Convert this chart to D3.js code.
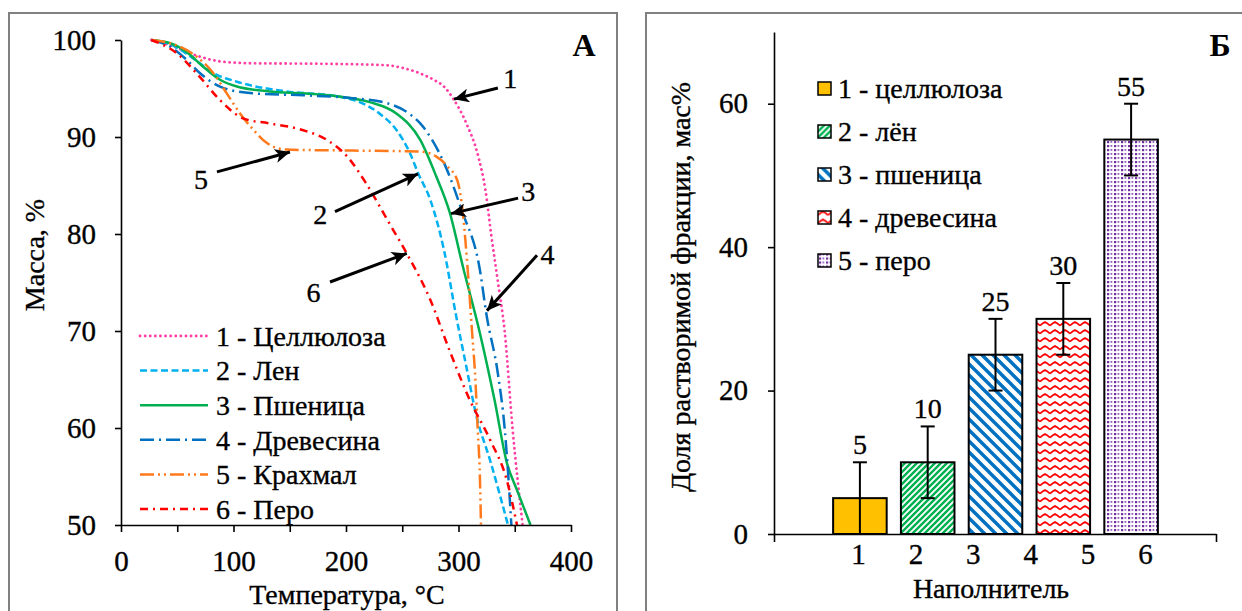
<!DOCTYPE html>
<html>
<head>
<meta charset="utf-8">
<script src="https://cdn.jsdelivr.net/npm/d3@7"></script>
<style>
  body { margin: 0; background: #fff; }
</style>
</head>
<body>
<svg id="chart" width="1242" height="611" font-family="Liberation Serif"></svg>
<script>
// ---- panel A: TGA curves, [temperature °C, mass %]
const cellulose = [[27,100],[45,99.4],[67,98.4],[88,97.8],[117,97.6],[177,97.55],[236,97.4],[251,97.1],[265,96.6],[278,95.9],[288,95.1],[295,94.0],[307,91.4],[318,87.8],[324,84.5],[329,80],[335,75.1],[341,70],[348,60],[357,50]];
const flax = [[27,100],[45,99.5],[58,98.6],[70,97.6],[82,96.6],[103,95.7],[147,94.7],[192,94.2],[212,93.6],[230,92.4],[245,90.7],[257,88.3],[264,86.3],[275,83.5],[287,78.4],[298,71.5],[307,66.3],[316,61.2],[328,56.7],[344,50]];
const wheat = [[27,100],[44,99.66],[58,98.8],[73,97.25],[88,95.9],[103,95.2],[132,94.7],[162,94.5],[192,94.2],[221,93.6],[245,92.4],[266,89.7],[280,86],[292,82.3],[304,76.6],[319,69.8],[332,62.9],[343,56.4],[352,53.6],[364,50]];
const wood = [[27,100],[44,99.3],[58,98],[70,96.6],[88,95.2],[117,94.5],[162,94.3],[206,94.0],[236,93.5],[255,92.5],[266,91.4],[288,87.1],[303,82.4],[319,76.3],[325,71.6],[335,65.6],[341,60],[344,55.5],[347,50]];
const starch = [[27,100],[44,99.66],[67,98.3],[82,96.6],[94,94.5],[106,92.4],[118,90.7],[130,89.35],[147,88.7],[206,88.6],[266,88.5],[280,88.0],[290,87.0],[299,85.5],[304,82],[308,76.6],[312,70],[315,65],[317,60],[319,55],[320,50]];
const feather = [[27,100],[50,98.6],[70,96.2],[88,93.8],[109,91.9],[132,91.4],[162,90.7],[183,89.7],[201,88.0],[218,85.2],[239,81.0],[254,78.0],[275,73.2],[292,68.0],[310,62.9],[328,58.8],[343,54.6],[352,50]];

const tgaNames = ["1 - Целлюлоза", "2 - Лен", "3 - Пшеница", "4 - Древесина", "5 - Крахмал", "6 - Перо"];
const tgaData = [cellulose, flax, wheat, wood, starch, feather];
const tempTicks = [0, 50, 100, 150, 200, 250, 300, 350, 400];
const massTicks = [50, 60, 70, 80, 90, 100];

// arrows: [label, labelT, labelM, startT, startM, tipT, tipM]
const arrows = [
  ["1", 346, 96.1, 335, 95.05, 296, 93.9],
  ["5", 71, 85.6, 85.3, 86.4, 150.2, 88.45],
  ["2", 177, 82.0, 190.2, 82.3, 264, 86.2],
  ["3", 362, 84.4, 353, 83.7, 293.3, 82.1],
  ["6", 171, 74.0, 185.8, 75.05, 254, 78.0],
  ["4", 379, 77.9, 369.8, 77.8, 325.3, 72.1]
];

// ---- panel B: soluble fraction
const fillers = ["1 - целлюлоза", "2 - лён", "3 - пшеница", "4 - древесина", "5 - перо"];
const soluble = [5, 10, 25, 30, 55];
const solubleErr = [5, 5, 5, 5, 5];
const fillerTicks = ["1", "2", "3", "4", "5", "6"];
const fractionTicks = [0, 20, 40, 60];

// ---- styles
const lineStyles = [
  { color: "#ff3fa4", dash: "0.1 5", cap: "round", w: 2.8 },
  { color: "#00b0f0", dash: "7 3.5", cap: "butt", w: 2.5 },
  { color: "#00b050", dash: null, cap: "butt", w: 2.5 },
  { color: "#0070c0", dash: "14 5 2 5", cap: "butt", w: 2.5 },
  { color: "#ff7a1c", dash: "14 4 2 4 2 4", cap: "butt", w: 2.5 },
  { color: "#ff0000", dash: "8 5 2 5", cap: "butt", w: 2.5 }
];
const barFills = ["#ffc000", "url(#pFlax)", "url(#pWheat)", "url(#pWood)", "url(#pFeather)"];
const FONT = "Liberation Serif";

const svg = d3.select("#chart");
const defs = svg.append("defs");

// hatch patterns
function pattern(id, w, h) {
  const p = defs.append("pattern").attr("id", id).attr("patternUnits", "userSpaceOnUse")
    .attr("width", w).attr("height", h);
  p.append("rect").attr("width", w).attr("height", h).attr("fill", "#fff");
  return p;
}
pattern("pFlax", 6, 6).append("path")
  .attr("d", "M-1,1 L1,-1 M0,6 L6,0 M5,7 L7,5")
  .attr("stroke", "#00b050").attr("stroke-width", 2.4);
pattern("pWheat", 11, 11).append("path")
  .attr("d", "M0,0 L11,11 M-2,9 L2,13 M9,-2 L13,2")
  .attr("stroke", "#0070c0").attr("stroke-width", 3.4);
pattern("pWood", 10, 8).append("path")
  .attr("d", "M0,5.5 L2.5,3.5 L5,2 L7.5,3.5 L10,5.5")
  .attr("fill", "none").attr("stroke", "#ff0000").attr("stroke-width", 1.7);
const pf = pattern("pFeather", 7, 4);
pf.append("rect").attr("x", 1).attr("y", 1).attr("width", 2.2).attr("height", 2.2).attr("fill", "#7030a0");
pf.append("rect").attr("x", 4.5).attr("y", 1).attr("width", 1.8).attr("height", 1.8).attr("fill", "#9460c0");

defs.append("marker").attr("id", "arrowHead")
  .attr("markerUnits", "userSpaceOnUse").attr("markerWidth", 16).attr("markerHeight", 14)
  .attr("refX", 15).attr("refY", 7).attr("orient", "auto")
  .append("path").attr("d", "M0,0 L15,7 L0,14 L4,7 Z").attr("fill", "#000");

// frames
svg.append("rect").attr("x", 9).attr("y", 13).attr("width", 608).attr("height", 620)
  .attr("fill", "none").attr("stroke", "#808080").attr("stroke-width", 2);
svg.append("rect").attr("x", 646).attr("y", 13).attr("width", 620).attr("height", 620)
  .attr("fill", "none").attr("stroke", "#808080").attr("stroke-width", 2);

// ================= panel A =================
const xL = d3.scaleLinear().domain([0, 400]).range([121, 571]);
const yL = d3.scaleLinear().domain([50, 100]).range([525, 40]);

const gA = svg.append("g");

const line = d3.line().x(d => xL(d[0])).y(d => yL(d[1])).curve(d3.curveMonotoneX);

gA.append("g").selectAll("path")
  .data(tgaData)
  .enter().append("path")
  .attr("d", line)
  .attr("fill", "none")
  .attr("stroke", (d, i) => lineStyles[i].color)
  .attr("stroke-width", (d, i) => lineStyles[i].w)
  .attr("stroke-dasharray", (d, i) => lineStyles[i].dash)
  .attr("stroke-linecap", (d, i) => lineStyles[i].cap);

const axA_y = gA.append("g").attr("transform", `translate(${xL(0)},0)`)
  .call(d3.axisLeft(yL).tickValues(massTicks).tickSize(6).tickSizeOuter(0).tickPadding(19));
const axA_x = gA.append("g").attr("transform", `translate(0,${yL(50)})`)
  .call(d3.axisBottom(xL).tickValues(tempTicks).tickSize(7).tickSizeOuter(0).tickPadding(18)
    .tickFormat(d => d % 100 === 0 ? d : ""));
[axA_y, axA_x].forEach(a => {
  a.attr("font-family", FONT).attr("font-size", 29);
  a.selectAll("path, line").attr("stroke", "#000").attr("stroke-width", 1.6);
});

// legend A
const legA = gA.append("g").selectAll("g")
  .data(tgaNames)
  .enter().append("g")
  .attr("transform", (d, i) => `translate(140,${336 + i * 34.6})`);
legA.append("line").attr("x1", 0).attr("x2", 68)
  .attr("stroke", (d, i) => lineStyles[i].color)
  .attr("stroke-width", (d, i) => lineStyles[i].w)
  .attr("stroke-dasharray", (d, i) => lineStyles[i].dash)
  .attr("stroke-linecap", (d, i) => lineStyles[i].cap);
legA.append("text").attr("x", 76).attr("dy", "0.35em").attr("font-size", 28).text(d => d);

// arrows
gA.append("g").selectAll("line")
  .data(arrows)
  .enter().append("line")
  .attr("x1", d => xL(d[3])).attr("y1", d => yL(d[4]))
  .attr("x2", d => xL(d[5])).attr("y2", d => yL(d[6]))
  .attr("stroke", "#000").attr("stroke-width", 3)
  .attr("marker-end", "url(#arrowHead)");
gA.append("g").selectAll("text")
  .data(arrows)
  .enter().append("text")
  .attr("x", d => xL(d[1])).attr("y", d => yL(d[2]))
  .attr("text-anchor", "middle").attr("dy", "0.35em")
  .attr("font-size", 28).text(d => d[0]);

gA.append("text").attr("transform", "translate(44,255) rotate(-90)")
  .attr("text-anchor", "middle").attr("font-size", 28).text("Масса, %");
gA.append("text").attr("x", 347).attr("y", 604)
  .attr("text-anchor", "middle").attr("font-size", 28).text("Температура, °С");

// ================= panel B =================
const yR = d3.scaleLinear().domain([0, 70]).range([534, 32]);
const xBand = d3.scaleBand().domain(fillers).range([826, 1165]).paddingInner(0.21).paddingOuter(0.105);
const xTick = d3.scalePoint().domain(fillerTicks).range([858, 1145]);
const xAxisSpan = d3.scaleLinear().domain([0, 1]).range([774, 1216]);

const gB = svg.append("g");

gB.append("g").selectAll("rect")
  .data(soluble)
  .enter().append("rect")
  .attr("x", (d, i) => xBand(fillers[i]))
  .attr("y", d => yR(d))
  .attr("width", xBand.bandwidth())
  .attr("height", d => yR(0) - yR(d))
  .attr("fill", (d, i) => barFills[i])
  .attr("stroke", "#000").attr("stroke-width", 2);

// error bars
const eb = gB.append("g").selectAll("g")
  .data(soluble)
  .enter().append("g")
  .attr("transform", (d, i) => `translate(${xBand(fillers[i]) + xBand.bandwidth() / 2},0)`);
eb.append("line")
  .attr("y1", (d, i) => yR(d - solubleErr[i])).attr("y2", (d, i) => yR(d + solubleErr[i]))
  .attr("stroke", "#000").attr("stroke-width", 2);
eb.append("line").attr("x1", -7).attr("x2", 7)
  .attr("y1", (d, i) => yR(d + solubleErr[i])).attr("y2", (d, i) => yR(d + solubleErr[i]))
  .attr("stroke", "#000").attr("stroke-width", 2);
eb.append("line").attr("x1", -7).attr("x2", 7)
  .attr("y1", (d, i) => yR(d - solubleErr[i])).attr("y2", (d, i) => yR(d - solubleErr[i]))
  .attr("stroke", "#000").attr("stroke-width", 2);
eb.append("text")
  .attr("y", (d, i) => yR(d + solubleErr[i]) - 8)
  .attr("text-anchor", "middle").attr("font-size", 28).text(d => d);

const axB_y = gB.append("g").attr("transform", `translate(${xAxisSpan(0)},0)`)
  .call(d3.axisLeft(yR).tickValues(fractionTicks).tickSize(6).tickSizeOuter(0).tickPadding(20));
const axB_x = gB.append("g").attr("transform", `translate(0,${yR(0)})`)
  .call(d3.axisBottom(xAxisSpan).tickValues([0, 1]).tickSize(8).tickSizeOuter(0).tickFormat(""));
const axB_lab = gB.append("g").attr("transform", `translate(0,${yR(0)})`)
  .call(d3.axisBottom(xTick).tickSize(0).tickPadding(9));
axB_lab.select(".domain").remove();
[axB_y, axB_x, axB_lab].forEach(a => {
  a.attr("font-family", FONT).attr("font-size", 29);
  a.selectAll("path, line").attr("stroke", "#000").attr("stroke-width", 1.6);
});

// legend B
const legB = gB.append("g").selectAll("g")
  .data(fillers)
  .enter().append("g")
  .attr("transform", (d, i) => `translate(818,${88.5 + i * 43})`);
legB.append("rect").attr("x", 0).attr("y", -6.5).attr("width", 13).attr("height", 13)
  .attr("fill", (d, i) => barFills[i]).attr("stroke", "#000").attr("stroke-width", 1.5);
legB.append("text").attr("x", 20).attr("dy", "0.35em").attr("font-size", 28).text(d => d);

gB.append("text").attr("transform", "translate(690,287) rotate(-90)")
  .attr("text-anchor", "middle").attr("font-size", 28).text("Доля растворимой фракции, мас%");
gB.append("text").attr("x", 991).attr("y", 598)
  .attr("text-anchor", "middle").attr("font-size", 28).text("Наполнитель");

// regular text a touch heavier, like the reference scan
svg.selectAll("text").attr("font-family", FONT).attr("fill", "#000")
  .attr("stroke", "#000").attr("stroke-width", 0.35);

// panel letters
gA.append("text").attr("x", 584).attr("y", 56).attr("font-family", FONT)
  .attr("text-anchor", "middle").attr("font-size", 32).attr("font-weight", "bold").text("А");
gB.append("text").attr("x", 1220).attr("y", 56).attr("font-family", FONT)
  .attr("text-anchor", "middle").attr("font-size", 32).attr("font-weight", "bold").text("Б");
</script>
</body>
</html>
